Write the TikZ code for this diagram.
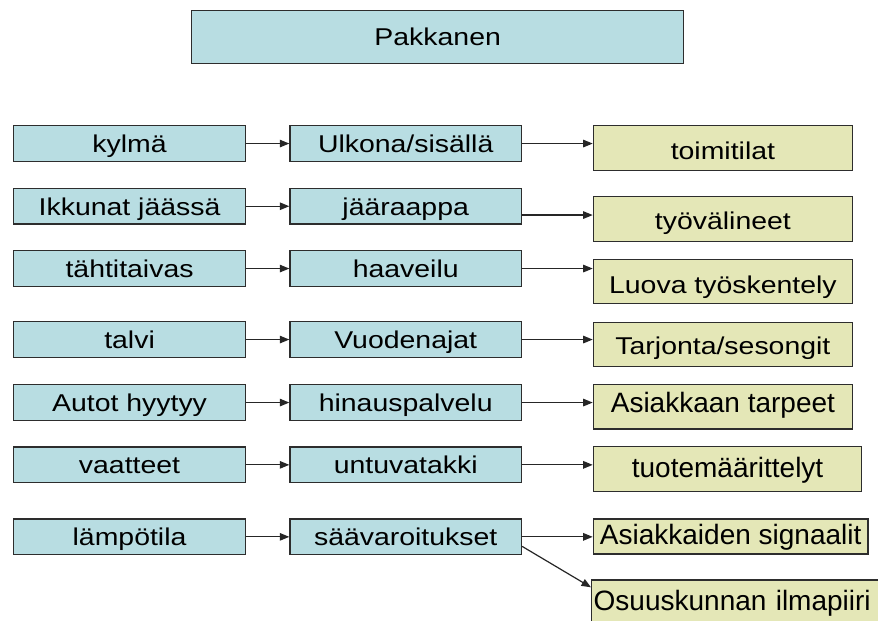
\documentclass[tikz,border=0pt]{standalone}
\usepackage{fontspec}
\setmainfont{Liberation Sans}[FakeStretch=1.17]
\newfontfamily\tallfont{Liberation Sans}
\usetikzlibrary{arrows.meta}
\definecolor{boxblue}{RGB}{184,221,226}
\definecolor{boxyellow}{RGB}{228,231,183}
\definecolor{edge}{RGB}{45,45,45}

\begin{document}
\begin{tikzpicture}[x=1pt,y=-1pt,
  box/.style={draw=edge, line width=1.4pt, inner sep=0pt, anchor=north west,
    text height=18pt, text depth=0pt, font=\fontsize{24.3}{28}\selectfont},
  headbox/.style={box, fill=boxblue, minimum width=492pt, minimum height=53pt},
  cause/.style={box, fill=boxblue, minimum width=232.3pt, minimum height=35.7pt},
  link/.style={box, fill=boxblue, minimum width=231.4pt, minimum height=35.7pt},
  effect/.style={box, fill=boxyellow, minimum width=259pt, minimum height=44.5pt},
  tall/.style={font=\tallfont\fontsize{28}{32}\selectfont},
  arr/.style={draw=black!85, line width=1.2pt, -{Triangle[length=9.5pt,width=7.5pt]}}
]
\useasboundingbox (0,0) rectangle (878,621);
\fill[white] (0,0) rectangle (878,621);
\clip (0,0) rectangle (878,621);

% heading
\node[headbox, text height=16.6pt] (title) at (191,9.5) {Pakkanen};

% first column
\node[cause] (l1) at (12.7,125)   {kylmä};
\node[cause] (l2) at (12.7,187.7) {Ikkunat jäässä};
\node[cause] (l3) at (12.7,250)   {tähtitaivas};
\node[cause] (l4) at (12.7,321)   {talvi};
\node[cause] (l5) at (12.7,384)   {Autot hyytyy};
\node[cause] (l6) at (12.7,446.3) {vaatteet};
\node[cause] (l7) at (12.7,518.3) {lämpötila};

% second column
\node[link] (m1) at (289.3,125)   {Ulkona/sisällä};
\node[link] (m2) at (289.3,187.7) {jääraappa};
\node[link] (m3) at (289.3,250)   {haaveilu};
\node[link] (m4) at (289.3,321)   {Vuodenajat};
\node[link] (m5) at (289.3,384)   {hinauspalvelu};
\node[link] (m6) at (289.3,446.3) {untuvatakki};
\node[link] (m7) at (289.3,518.3) {säävaroitukset};

% third column
\node[effect, minimum height=45pt, text height=23pt] (r1) at (592.7,125) {toimitilat};
\node[effect, minimum height=44.7pt, text height=20pt] (r2) at (592.7,196) {työvälineet};
\node[effect, minimum height=44pt, text height=23.4pt] (r3) at (592.7,259) {Luova työskentely};
\node[effect, minimum height=44.3pt, text height=19pt] (r4) at (592.7,321.7) {Tarjonta/sesongit};
\node[effect, tall, minimum height=44.3pt, text height=11pt] (r5) at (592.7,384) {Asiakkaan tarpeet};
\node[effect, tall, minimum width=268.3pt, minimum height=44.7pt, text height=16.6pt] (r6) at (592.7,446) {tuotemäärittelyt};
\node[effect, tall, minimum width=274.6pt, minimum height=35pt, text height=15pt] (r7) at (592.7,518.3) {Asiakkaiden signaalit};
\node[effect, tall, minimum height=47.5pt, text width=296pt, align=left, inner xsep=2pt, text height=14pt] (r8) at (591,579.3) {Osuuskunnan ilmapiiri};

% connectors
\foreach \i in {1,...,7} {
  \draw[arr] (l\i) -- (m\i);
}
\coordinate (m2o) at ([yshift=-8.8pt]m2.east);
\draw[arr] (m1.east) -- (m1.east -| r1.west);
\draw[arr] (m2o) -- (m2o -| r2.west);
\draw[arr] (m3.east) -- (m3.east -| r3.west);
\draw[arr] (m4.east) -- (m4.east -| r4.west);
\draw[arr] (m5.east) -- (m5.east -| r5.west);
\draw[arr] (m6.east) -- (m6.east -| r6.west);
\draw[arr] (m7.east) -- (m7.east -| r7.west);
\coordinate (m7o) at ([yshift=-9.5pt]m7.east);
\coordinate (r8i) at ([yshift=-8pt]r8.north west);
\draw[arr] (m7o) -- (r8i);
\end{tikzpicture}
\end{document}
